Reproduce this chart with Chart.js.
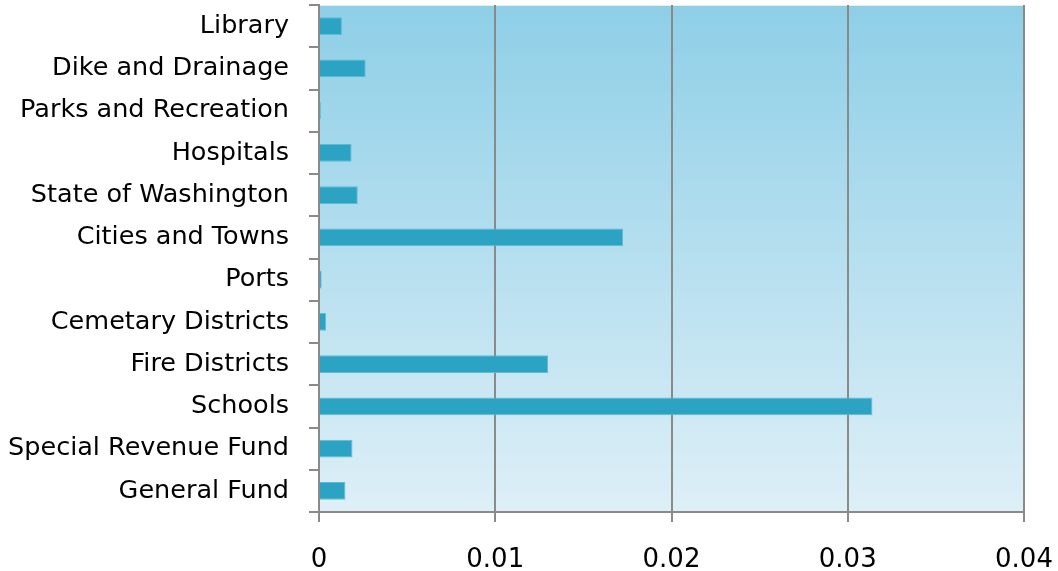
<!DOCTYPE html>
<html>
<head>
<meta charset="utf-8">
<script src="https://cdn.jsdelivr.net/npm/chart.js@4"></script>
<style>
  html, body { margin: 0; padding: 0; background: #fff; }
  #wrap { width: 1058px; height: 571px; }
</style>
</head>
<body>
<div id="wrap"><canvas id="barChart"></canvas></div>
<script>
const categories = [
  'Library', 'Dike and Drainage', 'Parks and Recreation', 'Hospitals',
  'State of Washington', 'Cities and Towns', 'Ports', 'Cemetary Districts',
  'Fire Districts', 'Schools', 'Special Revenue Fund', 'General Fund'
];
const rates = [
  0.0013, 0.00265, 0.0001, 0.00185,
  0.0022, 0.01725, 0.00015, 0.0004,
  0.013, 0.0314, 0.0019, 0.0015
];
const xTicks = [0, 0.01, 0.02, 0.03, 0.04];

// gradient behind the plot area
const plotBackground = {
  id: 'plotBackground',
  beforeDraw(chart) {
    const { ctx, chartArea: a } = chart;
    const g = ctx.createLinearGradient(0, a.top, 0, a.bottom);
    g.addColorStop(0, '#8ecfe7');
    g.addColorStop(1, '#deeff7');
    ctx.save();
    ctx.fillStyle = g;
    ctx.fillRect(a.left, a.top, a.right - a.left, a.bottom - a.top);
    ctx.strokeStyle = 'rgba(255,255,255,0.7)';
    ctx.lineWidth = 1;
    ctx.beginPath();
    ctx.moveTo(a.left, a.top + 0.5);
    ctx.lineTo(a.right, a.top + 0.5);
    ctx.stroke();
    ctx.restore();
  }
};

const ctx = document.getElementById('barChart');
new Chart(ctx, {
  type: 'bar',
  data: {
    labels: categories,
    datasets: [{
      data: rates,
      backgroundColor: '#2ca3c2',
      borderColor: '#5cbcd4',
      borderWidth: 1,
      categoryPercentage: 0.42,
      barPercentage: 1.0
    }]
  },
  plugins: [plotBackground],
  options: {
    indexAxis: 'y',
    responsive: true,
    maintainAspectRatio: false,
    animation: false,
    layout: { padding: { top: 5, right: 34, left: 0, bottom: 0 } },
    plugins: {
      legend: { display: false },
      tooltip: { enabled: false }
    },
    scales: {
      x: {
        min: 0,
        max: 0.04,
        afterBuildTicks: (axis) => { axis.ticks = xTicks.map(v => ({ value: v })); },
        afterFit: (axis) => {
          axis.height = 59;
          axis.paddingLeft = 0;
          axis.paddingRight = 0;
        },
        grid: {
          color: '#8a8a8a',
          lineWidth: 2,
          tickLength: 10,
          drawOnChartArea: true
        },
        border: { color: '#8a8a8a', width: 2 },
        ticks: {
          color: '#000',
          font: { family: 'DejaVu Sans', size: 26 },
          padding: 23,
          maxRotation: 0,
          callback: (v) => String(v)
        }
      },
      y: {
        afterFit: (axis) => {
          axis.width = 319;
          axis.paddingTop = 0;
          axis.paddingBottom = 0;
        },
        grid: {
          color: '#8a8a8a',
          lineWidth: 2,
          tickLength: 10,
          drawOnChartArea: false,
          offset: true
        },
        border: { color: '#8a8a8a', width: 2 },
        ticks: {
          color: '#000',
          font: { family: 'DejaVu Sans', size: 25.5 },
          padding: 20
        }
      }
    }
  }
});
</script>
</body>
</html>
